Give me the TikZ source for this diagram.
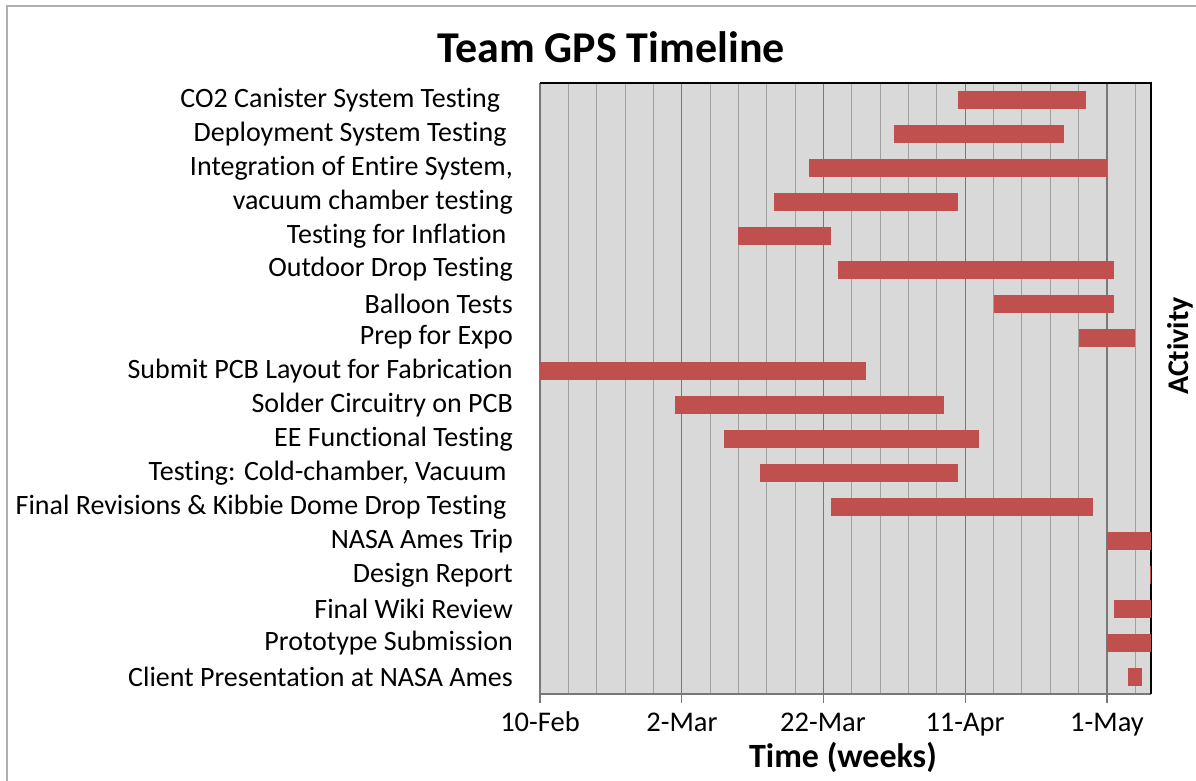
\documentclass[tikz,border=0pt]{standalone}
\usepackage{fontspec}
\setmainfont{Carlito}[Ligatures=NoCommon]
\usepackage{xcolor}
\usepackage{tikz}
\usetikzlibrary{positioning}
\definecolor{barred}{RGB}{192,80,77}
\definecolor{plotbg}{RGB}{217,217,217}
\definecolor{gridminor}{RGB}{160,160,160}
\definecolor{gridmajor}{RGB}{120,120,120}
\definecolor{chartframe}{RGB}{175,175,175}
% one row of the chart: name, row, first day, last day, label
\newcommand{\task}[5]{%
  \node[tasklabel] (#1) at (513, {83+(#2-0.5)*33.94}) {#5};
  \fill[bar] ({540+7.0875*#3}, {83+(#2-0.5)*33.94-9}) rectangle ({540+7.0875*#4}, {83+(#2-0.5)*33.94+9});
}
\begin{document}
\begin{tikzpicture}[
  x=1pt, y=-1pt,
  tasklabel/.style={anchor=east, inner sep=0pt, font=\fontsize{28}{32}\selectfont},
  ticklabel/.style={anchor=base, inner sep=0pt, font=\fontsize{28.5}{32}\selectfont},
  axistitle/.style={inner sep=0pt, font=\bfseries\fontsize{30}{36}\selectfont},
  bar/.style={fill=barred}
]
\useasboundingbox (0,0) rectangle (1196,781);
\draw[chartframe, line width=1.5pt] (7,800) -- (7,6) -- (1210,6);

\node[axistitle, anchor=base, font=\bfseries\fontsize{44}{50}\selectfont] (title) at (611,63) {Team GPS Timeline};

% plot area and grid
\fill[plotbg] (540,83) rectangle (1151,694);
\foreach \d in {4,8,...,84}
  \draw[gridminor, line width=1pt] ({540+7.0875*\d},83) -- ({540+7.0875*\d},694);
\foreach \d in {0,20,...,80}
  \draw[gridmajor, line width=1.2pt] ({540+7.0875*\d},83) -- ({540+7.0875*\d},703);
\draw[gridmajor, line width=1.2pt] (540,694) -- (1151,694);
\draw[black, line width=1.5pt] (540,83) -- (1151,83) -- (1151,694);

\task{co2}{1}{59}{77}{CO2 Canister System Testing~~~}
\task{deploy}{2}{50}{74}{Deployment System Testing~~}
\task{integ}{3}{38}{80}{Integration of Entire System,}
\task{vacuum}{4}{33}{59}{vacuum chamber testing}
\task{inflate}{5}{28}{41}{Testing for Inflation~~}
\task{outdoor}{6}{42}{81}{Outdoor Drop Testing}
\task{balloon}{7}{64}{81}{Balloon Tests}
\task{expo}{8}{76}{84}{Prep for Expo}
\task{pcb}{9}{0}{46}{Submit PCB Layout for Fabrication}
\task{solder}{10}{19}{57}{Solder Circuitry on PCB}
\task{ee}{11}{26}{62}{EE Functional Testing}
\task{cold}{12}{31}{59}{Testing: Cold-chamber, Vacuum~~}
\task{kibbie}{13}{41}{78}{Final Revisions \& Kibbie Dome Drop Testing~~}
\task{trip}{14}{80}{86.2}{NASA Ames Trip}
\task{report}{15}{86}{86.2}{Design Report}
\task{wiki}{16}{81}{86.2}{Final Wiki Review}
\task{proto}{17}{80}{86.2}{Prototype Submission}
\task{client}{18}{83}{85}{Client Presentation at NASA Ames}

% axis labels
\node[ticklabel] (feb) at (540,731) {10-Feb};
\node[ticklabel] (mar2) at (682,731) {2-Mar};
\node[ticklabel] (mar22) at (823,731) {22-Mar};
\node[ticklabel] (apr) at (965,731) {11-Apr};
\node[ticklabel] (may) at (1107,731) {1-May};
\node[axistitle, anchor=base, font=\bfseries\fontsize{34}{40}\selectfont] (xtitle) at (843,767) {Time (weeks)};
\node[axistitle, rotate=90, anchor=base] (ytitle) at (1188,346) {ACtivity};
\end{tikzpicture}
\end{document}
